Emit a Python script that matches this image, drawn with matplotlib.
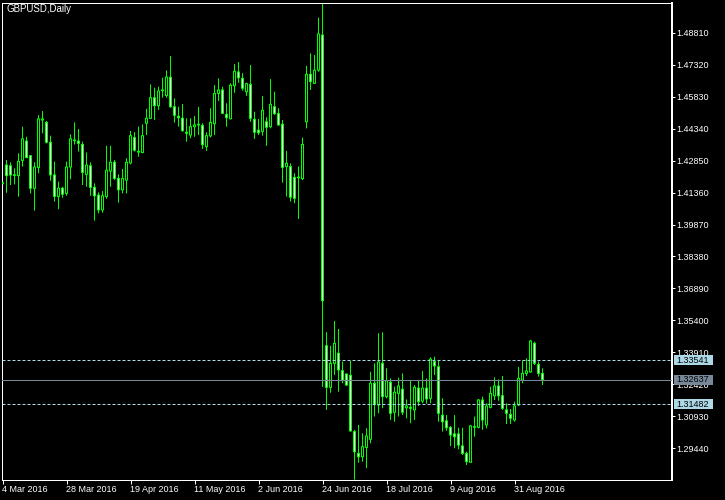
import matplotlib
matplotlib.use('Agg')
import matplotlib.pyplot as plt
from matplotlib.patches import Rectangle

plt.rcParams['font.family'] = ['Liberation Sans', 'DejaVu Sans']

# GBPUSD daily OHLC, 4 Mar 2016 .. 9 Sep 2016 (one entry per bar)
opens = [1.4182, 1.4264, 1.4261, 1.4219, 1.4215, 1.4286, 1.4376, 1.4308, 1.4156, 1.4253,
         1.4474, 1.4463, 1.4370, 1.4218, 1.4118, 1.4156, 1.4132, 1.4255, 1.4378, 1.4376,
         1.4360, 1.4221, 1.4261, 1.4160, 1.4124, 1.4055, 1.4117, 1.4236, 1.4277, 1.4202,
         1.4149, 1.4194, 1.4274, 1.4392, 1.4325, 1.4323, 1.4459, 1.4482, 1.4578, 1.4541,
         1.4611, 1.4588, 1.4673, 1.4536, 1.4491, 1.4482, 1.4417, 1.4404, 1.4443, 1.4451,
         1.4449, 1.4350, 1.4400, 1.4457, 1.4598, 1.4614, 1.4500, 1.4480, 1.4634, 1.4698,
         1.4668, 1.4606, 1.4640, 1.4477, 1.4427, 1.4421, 1.4466, 1.4443, 1.4536, 1.4504,
         1.4454, 1.4257, 1.4257, 1.4207, 1.4205, 1.4201, 1.4466, 1.4687, 1.4645, 1.4707,
         1.4870, 1.3422, 1.3228, 1.3340, 1.3387, 1.3306, 1.3290, 1.3284, 1.3022, 1.2920,
         1.2905, 1.2948, 1.2986, 1.3247, 1.3146, 1.3340, 1.3185, 1.3252, 1.3112, 1.3200,
         1.3219, 1.3133, 1.3135, 1.3123, 1.3224, 1.3164, 1.3224, 1.3177, 1.3348, 1.3324,
         1.3098, 1.3072, 1.3041, 1.3011, 1.3011, 1.2955, 1.2920, 1.2879, 1.3042, 1.3042,
         1.3169, 1.3053, 1.3135, 1.3189, 1.3234, 1.3189, 1.3123, 1.3102, 1.3076, 1.3146,
         1.3262, 1.3293, 1.3300, 1.3433, 1.3335, 1.3293]
highs = [1.4190, 1.4288, 1.4277, 1.4249, 1.4319, 1.4443, 1.4396, 1.4311, 1.4277, 1.4497,
         1.4516, 1.4470, 1.4401, 1.4280, 1.4187, 1.4163, 1.4280, 1.4407, 1.4463, 1.4432,
         1.4373, 1.4323, 1.4277, 1.4179, 1.4137, 1.4143, 1.4354, 1.4354, 1.4288, 1.4221,
         1.4246, 1.4296, 1.4423, 1.4417, 1.4443, 1.4454, 1.4526, 1.4640, 1.4625, 1.4629,
         1.4671, 1.4705, 1.4772, 1.4575, 1.4536, 1.4549, 1.4482, 1.4482, 1.4493, 1.4535,
         1.4459, 1.4417, 1.4529, 1.4637, 1.4668, 1.4629, 1.4552, 1.4645, 1.4735, 1.4744,
         1.4692, 1.4648, 1.4730, 1.4513, 1.4479, 1.4586, 1.4487, 1.4665, 1.4606, 1.4529,
         1.4474, 1.4330, 1.4272, 1.4226, 1.4257, 1.4392, 1.4726, 1.4785, 1.4777, 1.4951,
         1.5018, 1.3485, 1.3421, 1.3537, 1.3500, 1.3348, 1.3293, 1.3351, 1.3030, 1.3053,
         1.3014, 1.3037, 1.3301, 1.3340, 1.3480, 1.3485, 1.3317, 1.3270, 1.3231, 1.3273,
         1.3293, 1.3172, 1.3258, 1.3239, 1.3262, 1.3304, 1.3270, 1.3368, 1.3371, 1.3356,
         1.3177, 1.3099, 1.3048, 1.3099, 1.3040, 1.3040, 1.2928, 1.3053, 1.3092, 1.3174,
         1.3185, 1.3154, 1.3231, 1.3274, 1.3265, 1.3281, 1.3154, 1.3127, 1.3161, 1.3324,
         1.3353, 1.3363, 1.3449, 1.3441, 1.3348, 1.3317]
lows = [1.4168, 1.4135, 1.4171, 1.4174, 1.4117, 1.4257, 1.4296, 1.4132, 1.4052, 1.4226,
        1.4412, 1.4365, 1.4191, 1.4094, 1.4058, 1.4112, 1.4121, 1.4198, 1.4360, 1.4327,
        1.4171, 1.4163, 1.4121, 1.4005, 1.4039, 1.4042, 1.4107, 1.4163, 1.4194, 1.4089,
        1.4132, 1.4132, 1.4267, 1.4327, 1.4303, 1.4319, 1.4404, 1.4479, 1.4474, 1.4521,
        1.4578, 1.4578, 1.4531, 1.4462, 1.4443, 1.4420, 1.4373, 1.4389, 1.4396, 1.4404,
        1.4339, 1.4330, 1.4393, 1.4404, 1.4563, 1.4502, 1.4443, 1.4477, 1.4601, 1.4648,
        1.4611, 1.4586, 1.4466, 1.4386, 1.4404, 1.4401, 1.4354, 1.4435, 1.4497, 1.4448,
        1.4182, 1.4117, 1.4094, 1.4086, 1.4013, 1.4194, 1.4435, 1.4614, 1.4642, 1.4699,
        1.3230, 1.3123, 1.3203, 1.3286, 1.3208, 1.3247, 1.3234, 1.3022, 1.2798, 1.2877,
        1.2882, 1.2851, 1.2967, 1.3092, 1.3107, 1.3131, 1.3177, 1.3076, 1.3068, 1.3092,
        1.3099, 1.3084, 1.3061, 1.3076, 1.3141, 1.3154, 1.3151, 1.3154, 1.3286, 1.3068,
        1.3022, 1.3026, 1.2955, 1.2944, 1.2939, 1.2913, 1.2866, 1.2877, 1.2998, 1.3037,
        1.3030, 1.3037, 1.3130, 1.3169, 1.3166, 1.3123, 1.3057, 1.3057, 1.3068, 1.3141,
        1.3247, 1.3281, 1.3296, 1.3332, 1.3278, 1.3239]
closes = [1.4177, 1.4215, 1.4218, 1.4216, 1.4281, 1.4386, 1.4299, 1.4156, 1.4255, 1.4479,
          1.4479, 1.4370, 1.4218, 1.4118, 1.4156, 1.4128, 1.4255, 1.4386, 1.4381, 1.4365,
          1.4230, 1.4264, 1.4160, 1.4121, 1.4055, 1.4121, 1.4240, 1.4277, 1.4202, 1.4149,
          1.4202, 1.4277, 1.4401, 1.4333, 1.4328, 1.4401, 1.4482, 1.4578, 1.4541, 1.4609,
          1.4614, 1.4674, 1.4536, 1.4496, 1.4485, 1.4424, 1.4412, 1.4443, 1.4451, 1.4454,
          1.4359, 1.4401, 1.4463, 1.4598, 1.4614, 1.4505, 1.4485, 1.4636, 1.4701, 1.4671,
          1.4622, 1.4643, 1.4482, 1.4417, 1.4415, 1.4519, 1.4440, 1.4547, 1.4504, 1.4451,
          1.4253, 1.4272, 1.4114, 1.4109, 1.4208, 1.4360, 1.4687, 1.4653, 1.4706, 1.4875,
          1.3632, 1.3228, 1.3340, 1.3433, 1.3309, 1.3262, 1.3239, 1.3025, 1.2928, 1.2905,
          1.2951, 1.3001, 1.3247, 1.3149, 1.3346, 1.3185, 1.3258, 1.3107, 1.3205, 1.3234,
          1.3112, 1.3141, 1.3130, 1.3228, 1.3161, 1.3224, 1.3174, 1.3359, 1.3328, 1.3107,
          1.3068, 1.3040, 1.3006, 1.2998, 1.2959, 1.2920, 1.2882, 1.3048, 1.3045, 1.3169,
          1.3076, 1.3141, 1.3200, 1.3234, 1.3189, 1.3130, 1.3107, 1.3084, 1.3141, 1.3270,
          1.3293, 1.3304, 1.3444, 1.3340, 1.3293, 1.32637]

date_tick_bars = [0, 16, 32, 48, 64, 80, 96, 112, 128]
date_labels = ['4 Mar 2016', '28 Mar 2016', '19 Apr 2016', '11 May 2016', '2 Jun 2016',
               '24 Jun 2016', '18 Jul 2016', '9 Aug 2016', '31 Aug 2016']
price_ticks = [1.29440, 1.30930, 1.32420, 1.33910, 1.35400, 1.36890, 1.38380,
               1.39870, 1.41360, 1.42850, 1.44340, 1.45830, 1.47320, 1.48810]
dashed_levels = [1.33541, 1.31482]
title = 'GBPUSD,Daily'

W, H = 725, 500
fig = plt.figure(figsize=(W / 100, H / 100), dpi=100, facecolor='black')
left_px, right_px, top_px, bot_px = 2, 672, 2.5, 479.5
ax = fig.add_axes([left_px / W, (H - bot_px) / H, (right_px - left_px) / W, (bot_px - top_px) / H],
                  facecolor='black')

ax.set_xlim(-0.125, -0.125 + (right_px - left_px) / 4)
ylo = 1.50334 - 0.00015536 * 3 * bot_px
yhi = 1.50334 - 0.00015536 * 3 * top_px
ax.set_ylim(ylo, yhi)

LIME = '#00FF00'
px = 0.72                                  # one pixel in points
ypx = (yhi - ylo) / (bot_px - top_px)      # one pixel in price units
n = len(opens)
xs = list(range(n))

# wicks
ax.vlines(xs, lows, highs, colors=LIME, linewidth=px, zorder=2, snap=False)
# body outline (3 px wide lime block)
lo_b = [min(o, c) for o, c in zip(opens, closes)]
hi_b = [max(o, c) for o, c in zip(opens, closes)]
ax.bar(xs, [h - l + ypx for l, h in zip(lo_b, hi_b)], width=0.75,
       bottom=[l - ypx / 2 for l in lo_b], color=LIME, linewidth=0, zorder=3, snap=False)
# body interior (1 px wide): black for bull, white for bear
inner_x, inner_b, inner_h, inner_c = [], [], [], []
for i, (o, c, l, h) in enumerate(zip(opens, closes, lo_b, hi_b)):
    if h - l > ypx:
        inner_x.append(i)
        inner_b.append(l + ypx / 2)
        inner_h.append(h - l - ypx)
        inner_c.append('black' if c > o else 'white')
ax.bar(inner_x, inner_h, width=0.25, bottom=inner_b, color=inner_c, linewidth=0,
       zorder=4, snap=False)

# horizontal levels
for lv in dashed_levels:
    ax.axhline(lv, color='#ADD8E6', linewidth=px, dashes=(3, 2), zorder=5)
ax.axhline(closes[-1], color='#778899', linewidth=px, zorder=5)

for s in ax.spines.values():
    s.set_color('white')
    s.set_linewidth(px)
ax.spines['right'].set_linewidth(2 * px)

ax.yaxis.tick_right()
ax.set_yticks(price_ticks)
ax.set_yticklabels([f'{p:.5f}' for p in price_ticks])
ax.tick_params(axis='y', colors='white', length=3 * px, width=px, pad=1.2,
               labelsize=6.5, direction='out')
ax.set_xticks(date_tick_bars)
ax.set_xticklabels(date_labels)
ax.tick_params(axis='x', colors='white', length=4 * px, width=px, pad=1.0,
               labelsize=6.5, direction='out')
for lab in ax.get_xticklabels():
    lab.set_horizontalalignment('left')

# price labels on the right axis
ytr = ax.get_yaxis_transform()
box_x0 = (674.3 - left_px) / (right_px - left_px)
box_w = 39.0 / (right_px - left_px)
for lv, fc in [(dashed_levels[0], '#ADD8E6'), (closes[-1], '#778899'), (dashed_levels[1], '#ADD8E6')]:
    ax.add_patch(Rectangle((box_x0, lv - 5 * ypx), box_w, 10 * ypx, transform=ytr,
                           facecolor=fc, edgecolor='none', clip_on=False, zorder=10))
    ax.text((676.5 - left_px) / (right_px - left_px), lv, f'{lv:.5f}', transform=ytr,
            color='black', fontsize=6.5, va='center', ha='left', clip_on=False, zorder=11)

fig.text(6.5 / W, 1 - 4.5 / H, title, color='white', fontsize=7, va='top', ha='left')

fig.savefig('out.png', dpi=100, facecolor='black')
